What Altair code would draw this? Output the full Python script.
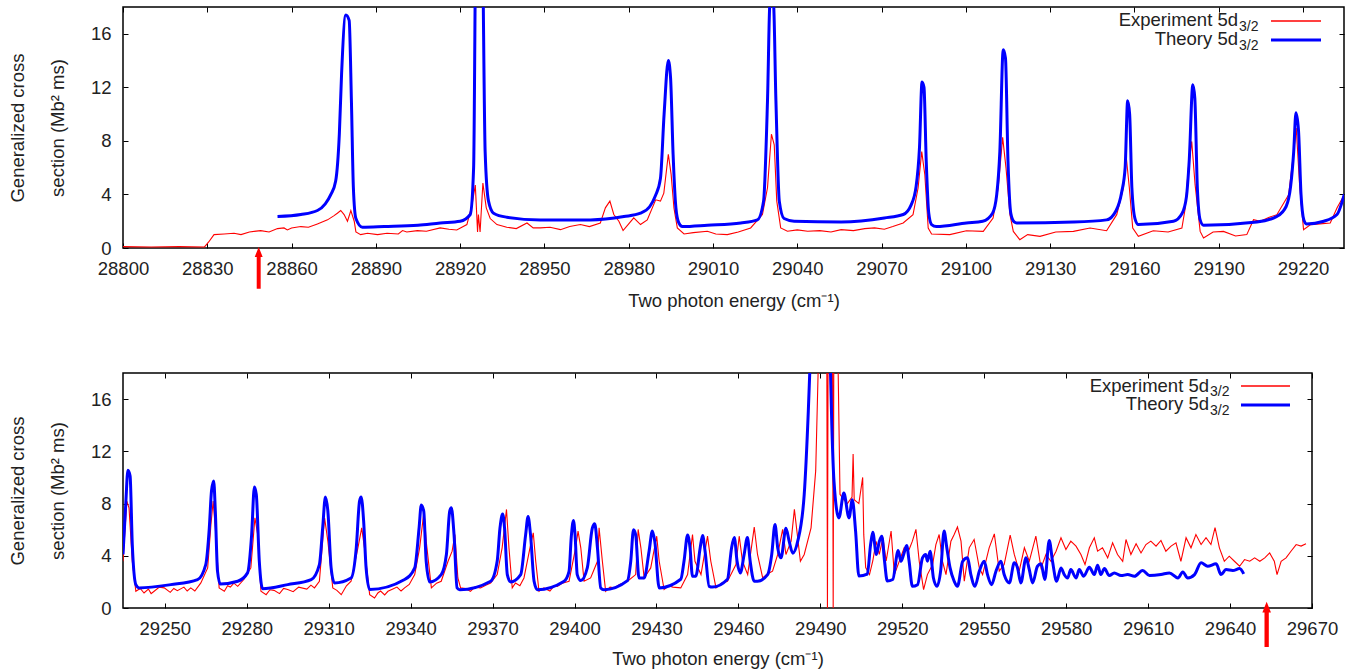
import altair as alt
import pandas as pd

# ---------------- data ----------------
top_experiment = [
    (28800, 0.1), (28810, 0.08), (28820, 0.1), (28829, 0.08), (28830.5, 0.45), (28832.4, 1.0),
    (28836, 1.05), (28839.5, 1.1), (28842, 1.0), (28845, 1.2), (28849, 1.3), (28852, 1.2),
    (28855, 1.45), (28857.3, 1.5), (28858.5, 1.35), (28860, 1.5), (28863.3, 1.6), (28866, 1.55),
    (28869.2, 1.8), (28872.8, 2.1), (28875, 2.4), (28876.3, 2.6), (28877.5, 2.8), (28878.7, 2.5),
    (28879.9, 2.0), (28881.1, 2.8), (28882.3, 2.0), (28882.9, 1.2), (28884.6, 1.0), (28887, 1.1),
    (28890.6, 1.0), (28894, 1.1), (28898, 1.05), (28899.5, 1.3), (28901, 1.2), (28904.8, 1.3),
    (28908, 1.25), (28912.9, 1.5), (28916, 1.4), (28918.8, 1.35), (28922.4, 1.75), (28924.2, 3.2),
    (28925.4, 4.7), (28926.2, 1.2), (28926.5, 2.5), (28927.1, 1.2), (28928.1, 4.85), (28929.3, 3.0),
    (28930.7, 2.2), (28933.1, 1.75), (28936.6, 1.55), (28940, 1.45), (28943.8, 1.87), (28946, 1.5),
    (28948.5, 1.5), (28952, 1.55), (28955.7, 1.37), (28959, 1.6), (28962.8, 1.75), (28966, 1.6),
    (28969.9, 1.87), (28971.7, 3.0), (28973.3, 3.5), (28974.7, 2.5), (28976.5, 2.0), (28978, 1.3),
    (28980, 1.8), (28981.8, 2.25), (28984.2, 1.75), (28986.6, 2.1), (28989.6, 3.6), (28991.3, 3.5),
    (28992.5, 4.1), (28994.1, 7.0), (28995.1, 5.5), (28996.1, 3.0), (28997.3, 1.5), (28999.7, 1.05),
    (29003, 1.15), (29008, 1.25), (29011, 1.05), (29015.1, 1.0), (29019, 1.2), (29023.4, 1.5),
    (29027.6, 2.5), (29029.4, 4.5), (29030.8, 8.5), (29031.8, 7.7), (29032.7, 3.5), (29034.1, 1.5),
    (29036.5, 1.25), (29040, 1.35), (29043.7, 1.25), (29048, 1.3), (29052, 1.2), (29055.6, 1.37),
    (29060, 1.3), (29064, 1.45), (29067.5, 1.5), (29071, 1.4), (29074, 1.6), (29077.7, 1.87),
    (29081.2, 2.49), (29083, 4.48), (29084.3, 7.2), (29085.4, 5.47), (29086.6, 1.49), (29087.8, 1.05),
    (29094.3, 1.0), (29100.2, 1.29), (29106.2, 1.24), (29109.7, 2.24), (29111.5, 4.48), (29113.1, 8.26),
    (29114.3, 5.97), (29115.7, 2.49), (29116.9, 1.24), (29119.2, 0.62), (29122, 1.0), (29126.4, 0.87),
    (29132, 1.2), (29138.3, 1.24), (29144.2, 1.49), (29150.1, 1.29), (29153.7, 2.49), (29156.1, 4.48),
    (29157, 7.0), (29158.2, 4.48), (29159.4, 1.49), (29161.4, 0.87), (29166.7, 1.29), (29172, 1.2),
    (29176.9, 1.49), (29178.1, 2.99), (29179.2, 5.97), (29180.4, 7.96), (29181.6, 4.73), (29183.4, 1.24),
    (29184.6, 0.75), (29188, 1.2), (29191.7, 1.24), (29196, 0.9), (29200, 1.0), (29202.4, 2.11),
    (29204.8, 1.99), (29208, 2.3), (29210.7, 2.49), (29214.9, 3.98), (29216.7, 7.2), (29217.6, 8.96),
    (29218.8, 4.73), (29220.2, 1.37), (29222.6, 1.74), (29226, 1.8), (29229.7, 1.87), (29232.1, 2.99),
    (29234.7, 3.98),
]

top_theory = [
    (28855, 2.35), (28863.3, 2.5), (28869.2, 2.8), (28872, 3.3), (28874, 4.0), (28875.7, 5.0),
    (28877.0, 8.5), (28877.8, 13.0), (28879.3, 17.4), (28880.5, 17.0), (28881.3, 11.0), (28882.0, 4.5),
    (28882.9, 2.2), (28885.2, 1.55), (28893, 1.6), (28905, 1.7), (28912.9, 1.87), (28920, 2.0),
    (28923.6, 2.5), (28924.8, 6.0), (28925.7, 25.0), (28927.7, 25.0), (28928.9, 7.2), (28930.1, 3.5),
    (28931.9, 2.6), (28936.6, 2.3), (28948.5, 2.1), (28966.4, 2.1), (28978.3, 2.35), (28984.2, 2.6),
    (28987.5, 3.1), (28989.5, 3.9), (28991.3, 5.2), (28992.6, 10.0), (28994.1, 14.0), (28994.9, 12.7),
    (28995.8, 7.0), (28996.8, 3.0), (28997.8, 1.9), (28999.1, 1.6), (29008, 1.7), (29019.9, 1.87),
    (29025.8, 2.1), (29028, 3.5), (29029.4, 11.0), (29030.3, 18.3), (29031.5, 18.3), (29032.4, 11.0),
    (29033.6, 3.5), (29035.3, 2.2), (29038.9, 2.0), (29055.6, 1.95), (29071, 2.24), (29077.7, 2.5),
    (29080.5, 3.2), (29082.3, 4.6), (29083.5, 7.5), (29084.4, 12.4), (29085.1, 12.0), (29085.9, 6.5),
    (29086.8, 2.6), (29087.8, 1.75), (29089.5, 1.6), (29100.2, 1.87), (29106, 2.0), (29109.5, 2.6),
    (29111.0, 4.0), (29112.1, 7.2), (29113.3, 14.8), (29114.1, 14.2), (29115.0, 6.5), (29116.0, 2.6),
    (29117.2, 1.95), (29118.1, 1.87), (29138.3, 1.94), (29150.1, 2.1), (29153.5, 2.8), (29155.5, 4.2),
    (29156.7, 6.0), (29157.6, 11.0), (29158.3, 10.0), (29159.1, 4.5), (29160.2, 2.2), (29161.4, 1.75),
    (29173.9, 2.0), (29177.0, 2.6), (29178.5, 3.8), (29179.5, 6.5), (29180.8, 12.2), (29181.5, 11.2),
    (29182.4, 4.5), (29183.4, 2.1), (29184.6, 1.7), (29203.6, 1.94), (29210.7, 2.36), (29214.0, 3.1),
    (29215.6, 4.6), (29216.7, 7.2), (29217.5, 10.1), (29218.4, 8.8), (29219.3, 4.0), (29220.3, 2.1),
    (29221.2, 1.8), (29227.4, 2.0), (29232.1, 2.5), (29234.7, 4.0),
]

bottom_experiment = [
    (29234.7, 3.58), (29236.1, 8.19), (29236.9, 7.68), (29238.1, 3.58), (29239.4, 1.28), (29241, 1.5),
    (29242.4, 1.15), (29244, 1.45), (29245, 1.1), (29246.1, 1.28), (29248, 1.6), (29249.8, 1.54),
    (29252, 1.2), (29253.3, 1.5), (29254.6, 1.33), (29257, 1.6), (29258.2, 1.3), (29259.5, 1.54),
    (29261, 1.3), (29263.2, 1.92), (29265.7, 3.07), (29266.9, 6.4), (29267.7, 8.19), (29268.5, 6.14),
    (29269.9, 1.54), (29271.8, 1.28), (29273, 1.7), (29274, 1.6), (29275.3, 1.9), (29276.7, 1.66),
    (29279, 2.2), (29281.5, 3.07), (29283, 6.91), (29284, 5.63), (29285.2, 1.28), (29287.1, 1.02),
    (29288.5, 1.4), (29290, 1.35), (29292, 1.1), (29293.5, 1.5), (29295, 1.41), (29297, 1.25),
    (29299, 1.6), (29302, 1.45), (29303.5, 1.75), (29304.8, 1.54), (29306.6, 2.05), (29308.5, 6.91),
    (29309.7, 5.12), (29311.5, 1.54), (29313, 1.35), (29314.6, 1.02), (29316.5, 1.7), (29318.2, 2.05),
    (29320.7, 4.61), (29322.1, 6.14), (29323.1, 4.61), (29325, 1.02), (29326.8, 0.77), (29328, 1.15),
    (29329, 1.3), (29330.5, 1.0), (29331.7, 1.28), (29333.5, 1.45), (29335, 1.6), (29336.5, 1.3),
    (29337.8, 1.54), (29339.5, 1.8), (29341.5, 2.56), (29343.3, 4.61), (29344.9, 7.42), (29345.7, 5.12),
    (29347.6, 1.54), (29349.5, 1.9), (29351.2, 2.05), (29353.7, 3.58), (29355.2, 4.35), (29356.2, 5.63),
    (29357.3, 2.3), (29358.3, 1.54), (29360, 1.5), (29361.9, 1.28), (29363.5, 1.6), (29365.6, 1.54),
    (29367.5, 1.75), (29369.3, 1.92), (29371.7, 2.56), (29373.5, 4.61), (29375.1, 7.55), (29376, 4.61),
    (29377.2, 1.54), (29378.4, 1.92), (29380, 1.7), (29381.5, 2.3), (29383.7, 4.61), (29384.9, 5.76),
    (29385.8, 3.58), (29387, 1.28), (29388.8, 1.54), (29391, 1.3), (29392.5, 1.7), (29393.7, 1.66),
    (29395.5, 1.9), (29398, 2.05), (29400.4, 4.61), (29401.3, 5.89), (29402.3, 4.61), (29403.5, 2.05),
    (29405.9, 2.3), (29408.4, 3.58), (29409, 6.14), (29410.2, 3.58), (29411.4, 1.28), (29413, 1.6),
    (29414.5, 1.54), (29416.5, 1.8), (29419.4, 2.05), (29422.4, 2.56), (29423.3, 6.02), (29424.3, 4.61),
    (29425.5, 2.3), (29427.9, 3.07), (29430.1, 5.5), (29431, 3.58), (29432.8, 1.41), (29434.5, 1.7),
    (29436, 1.6), (29438.9, 1.54), (29441.4, 2.56), (29443.2, 5.63), (29444.1, 3.58), (29446.3, 2.56),
    (29448.7, 5.5), (29449.9, 3.58), (29451.8, 1.54), (29453.8, 1.9), (29456, 2.05), (29459.1, 3.33),
    (29460.3, 5.5), (29461.5, 3.58), (29463.4, 2.56), (29465.8, 6.2), (29467, 4.1), (29468.9, 2.3),
    (29470.6, 2.6), (29472.5, 2.82), (29474.4, 4.1), (29476.2, 6.02), (29477.4, 4.1), (29479.3, 5.12),
    (29480.5, 7.55), (29481.7, 5.38), (29482.7, 3.58), (29484.1, 4.1), (29486.6, 6.14), (29488.3, 10.5),
    (29490, 25.0), (29492.3, 25.0), (29492.6, 0.0), (29492.9, 25.0), (29494.4, 25.0), (29494.7, 0.0),
    (29495.0, 25.0), (29496.5, 18.5), (29497.2, 8.7), (29498.6, 8.3), (29499.9, 8.0), (29501.6, 8.5),
    (29502.0, 11.8), (29502.4, 8.3), (29504.1, 8.0), (29505.5, 10.0), (29505.9, 5.6), (29506.6, 3.1),
    (29508, 2.56), (29509.2, 3.6), (29510.4, 5.1), (29511.6, 4.1), (29512.9, 5.4), (29514.1, 3.6),
    (29515.9, 5.9), (29517.1, 2.56), (29518.9, 3.58), (29520.7, 4.61), (29522.5, 4.48), (29523.7, 5.12),
    (29525, 6.02), (29526.2, 3.58), (29527.8, 1.41), (29529.2, 2.56), (29531.1, 3.33), (29532.3, 4.86),
    (29533.5, 5.63), (29534.7, 3.58), (29536, 2.56), (29537.8, 5.12), (29539, 5.63), (29540.2, 6.2),
    (29541.5, 5.12), (29542.7, 2.05), (29544.5, 4.61), (29546.3, 5.25), (29548.2, 3.07), (29549.4, 2.56),
    (29551.8, 4.61), (29553.7, 5.68), (29555.5, 2.82), (29557.3, 3.33), (29559.5, 5.58), (29561, 4.1),
    (29562.8, 2.82), (29564.7, 4.61), (29566.5, 3.58), (29568.9, 5.5), (29570.8, 3.07), (29572.6, 4.1),
    (29574.4, 3.58), (29576.3, 4.35), (29578.1, 5.38), (29579.9, 4.48), (29581.7, 5.12), (29583.6, 4.74),
    (29585.4, 4.1), (29586.9, 3.33), (29588.5, 4.61), (29590.3, 5.38), (29591.5, 4.35), (29593.3, 4.61),
    (29595.2, 3.84), (29597, 4.99), (29598.8, 4.1), (29600.7, 3.58), (29601.9, 5.25), (29603.7, 4.1),
    (29605.6, 4.92), (29607.4, 4.22), (29609.2, 4.86), (29611, 5.12), (29612.9, 4.74), (29614.7, 5.17),
    (29616.5, 4.35), (29618.4, 4.74), (29620.2, 4.99), (29622, 3.58), (29623.9, 5.38), (29625.7, 4.61),
    (29627.5, 5.63), (29629.4, 4.86), (29631.2, 5.38), (29633, 4.86), (29634.5, 6.15), (29636.1, 4.61),
    (29637.9, 3.58), (29639.7, 3.97), (29641.6, 3.58), (29643.5, 3.2), (29645.3, 3.71), (29647.2, 3.58),
    (29649, 3.84), (29650.9, 3.58), (29652.7, 3.84), (29654.5, 4.22), (29656.2, 3.58), (29657.2, 2.56),
    (29658.7, 3.58), (29660.5, 3.84), (29662.3, 4.35), (29664.2, 4.86), (29666, 4.74), (29667.8, 4.92),
]

bottom_theory = [
    (29234.7, 4.1), (29235.7, 7.94), (29236.5, 10.55), (29237.3, 10.11), (29238.1, 4.86), (29239.4, 1.79),
    (29240.6, 1.54), (29252.2, 1.79), (29262, 2.18), (29265, 3.33), (29266.3, 6.14), (29267.1, 8.96),
    (29267.9, 9.73), (29268.5, 7.42), (29269.3, 2.82), (29270.3, 1.84), (29276.7, 2.05), (29280.3, 2.69),
    (29281.8, 5.63), (29282.8, 9.27), (29283.5, 8.7), (29284.6, 3.58), (29285.8, 1.48), (29295, 1.79),
    (29303.6, 2.18), (29306.6, 3.33), (29307.8, 6.14), (29308.8, 8.5), (29309.7, 7.42), (29310.9, 3.07),
    (29312.1, 1.92), (29318.2, 2.3), (29320.1, 4.61), (29321.3, 8.19), (29321.9, 8.5), (29322.8, 6.66),
    (29323.7, 3.07), (29325, 1.41), (29337.8, 2.18), (29341.5, 3.07), (29343.1, 6.14), (29343.9, 7.89),
    (29344.8, 7.42), (29345.7, 3.58), (29347, 2.0), (29351.2, 2.56), (29353.1, 4.1), (29354.3, 7.4),
    (29354.9, 7.68), (29355.9, 5.6), (29357, 1.54), (29358, 1.4), (29369.3, 2.05), (29371.7, 3.6),
    (29372.7, 6.1), (29373.7, 7.2), (29374.4, 6.1), (29375.4, 2.56), (29376.6, 2.0), (29380.3, 2.56),
    (29382.1, 5.6), (29383, 7.0), (29383.9, 5.6), (29385.2, 2.05), (29386.4, 1.4), (29396.2, 2.05),
    (29398, 2.8), (29398.8, 5.4), (29399.6, 6.7), (29400.2, 5.6), (29401, 2.56), (29402.3, 2.1),
    (29404.7, 3.1), (29406.5, 6.1), (29407.4, 6.45), (29408.4, 4.6), (29409.6, 1.54), (29410.8, 1.4),
    (29419.4, 2.1), (29420.6, 3.6), (29421.6, 6.0), (29422.4, 5.6), (29423.6, 2.3), (29425.5, 2.3),
    (29427.3, 4.35), (29428.5, 5.9), (29429.4, 5.1), (29431, 1.54), (29438.9, 2.2), (29440.1, 3.6),
    (29441.4, 5.6), (29442.3, 4.6), (29443.2, 2.43), (29444.4, 2.43), (29446, 4.6), (29446.9, 5.55),
    (29447.8, 4.35), (29449.3, 1.66), (29450.5, 1.6), (29456, 2.2), (29457.5, 4.6), (29458.5, 5.4),
    (29459.5, 3.6), (29460.7, 2.69), (29462.1, 4.1), (29463.3, 5.4), (29464.3, 3.6), (29465.8, 2.05),
    (29467, 2.05), (29470.7, 2.56), (29472.2, 4.1), (29473.4, 6.4), (29474.4, 4.6), (29475.6, 3.84),
    (29477.4, 6.1), (29478.6, 5.1), (29479.9, 4.2), (29481.7, 5.1), (29484.1, 8.7), (29485.6, 15.1),
    (29486.3, 19.0), (29490, 30.0), (29493.6, 19.0), (29494.2, 14.0), (29495, 9.7), (29496.8, 6.9),
    (29498.6, 8.8), (29500.5, 6.9), (29501.7, 8.3), (29502.9, 5.9), (29504.1, 2.45), (29507.2, 2.6),
    (29508.4, 4.86), (29509.2, 5.8), (29510.5, 4.1), (29511.6, 5.1), (29512.5, 5.5), (29513.5, 3.6),
    (29514.5, 2.07), (29516.5, 2.18), (29518.5, 4.4), (29519.5, 3.58), (29520.5, 4.1), (29521.6, 4.79),
    (29522.5, 3.58), (29523.7, 1.66), (29525.6, 1.79), (29527.4, 3.84), (29528.6, 4.1), (29529.2, 3.58),
    (29530.2, 4.35), (29531.4, 2.3), (29532.7, 1.66), (29534.1, 2.94), (29535.3, 5.89), (29536.3, 4.61),
    (29537.5, 3.07), (29539, 2.05), (29540.2, 1.66), (29542.1, 3.58), (29543.9, 3.84), (29545.1, 2.56),
    (29546.6, 1.66), (29548.2, 2.82), (29550, 3.58), (29551.2, 2.56), (29552.7, 1.79), (29554.3, 2.82),
    (29556.1, 3.58), (29557.3, 2.56), (29559.2, 1.92), (29561, 3.46), (29562.2, 3.07), (29563.4, 1.92),
    (29565.3, 3.84), (29566.5, 2.94), (29567.7, 1.92), (29569.5, 3.2), (29570.8, 3.38), (29572.2, 2.18),
    (29573.8, 5.17), (29575, 3.58), (29576.5, 2.05), (29578.1, 3.07), (29579.3, 2.56), (29580.5, 2.3),
    (29581.7, 2.94), (29583.6, 2.3), (29584.8, 2.94), (29586.4, 2.43), (29588.5, 3.12), (29590.3, 2.56),
    (29591.5, 3.28), (29592.7, 2.56), (29594, 3.02), (29595.8, 2.48), (29597.6, 2.69), (29600.1, 2.48),
    (29602.5, 2.56), (29605, 2.43), (29608, 2.87), (29610.5, 2.48), (29614.7, 2.56), (29617.8, 2.69),
    (29620.9, 2.3), (29622.7, 2.76), (29624.5, 2.3), (29627, 2.56), (29629.4, 3.46), (29631.8, 3.2),
    (29634.9, 3.38), (29636.7, 2.56), (29638.5, 2.94), (29641, 2.87), (29643.5, 3.02), (29645, 2.61),
]

top_x_ticks = [28800, 28830, 28860, 28890, 28920, 28950, 28980, 29010, 29040, 29070,
               29100, 29130, 29160, 29190, 29220]
bottom_x_ticks = [29250, 29280, 29310, 29340, 29370, 29400, 29430, 29460, 29490, 29520,
                  29550, 29580, 29610, 29640, 29670]
y_ticks = [0, 4, 8, 12, 16]
top_x_domain = [28800, 29234.6]
bottom_x_domain = [29234.7, 29670]
y_domain = [0, 18]
top_arrow = [28848.3]
bottom_arrow = [29653.4]

legend_labels = ["Experiment 5d", "Theory 5d"]
legend_sub = "3/2"
x_title = "Two photon energy (cm\u207b\u00b9)"
y_title = ["Generalized cross", "section (Mb\u00b2 ms)"]

# ---------------- styling ----------------
FONT = "Liberation Sans"
TXT = "#222222"
RED = "#ff0000"
BLUE = "#0000ff"
FS = 18.5


def arrow_path(head_frac, head_half, shaft_half):
    b = -1 + head_frac
    return (f"M0,-1L{head_half},{b}L{shaft_half},{b}L{shaft_half},1"
            f"L-{shaft_half},1L-{shaft_half},{b}L-{head_half},{b}Z")


def panel(exp, th, xdom, xticks, w, h, arrow_x, arrow_cy, arrow_len,
          title_x, xtitle_y, leg):
    exp_df = pd.DataFrame(exp, columns=["x", "y"])
    th_df = pd.DataFrame(th, columns=["x", "y"])
    one = pd.DataFrame({"k": [0]})
    xs = alt.Scale(domain=xdom, nice=False, zero=False)
    ys = alt.Scale(domain=y_domain, nice=False, zero=False)

    main_x = alt.Axis(orient="bottom", values=xticks, format="d", ticks=False, domain=False,
                      grid=False, labelPadding=11, labelFlush=False, labelOverlap=False,
                      labelFont=FONT, labelFontSize=FS, labelColor=TXT,
                      title=x_title, titleY=xtitle_y, titleBaseline="alphabetic",
                      titleFont=FONT, titleFontSize=FS, titleFontWeight="normal", titleColor=TXT)
    main_y = alt.Axis(orient="left", values=y_ticks, ticks=False, domain=False, grid=False,
                      labelPadding=12, labelFlush=False, labelOverlap=False,
                      labelFont=FONT, labelFontSize=FS, labelColor=TXT,
                      title=y_title, titleX=title_x, titleY=h / 2, titleAngle=270,
                      titleAlign="center", titleBaseline="alphabetic", titleLineHeight=40,
                      titleFont=FONT, titleFontSize=FS, titleFontWeight="normal", titleColor=TXT)

    def tick_axis(orient, values):
        return alt.Axis(orient=orient, values=values, ticks=True, tickSize=5, tickWidth=1,
                        tickColor="black", labels=False, domain=False, grid=False,
                        offset=-5, title=None)

    exp_line = alt.Chart(exp_df).mark_line(color=RED, strokeWidth=1.1, clip=True).encode(
        x=alt.X("x:Q", scale=xs, axis=main_x),
        y=alt.Y("y:Q", scale=ys, axis=main_y),
    )
    th_line = alt.Chart(th_df).mark_line(color=BLUE, strokeWidth=3, clip=True,
                                         strokeJoin="round", interpolate="monotone").encode(
        x=alt.X("x:Q", scale=xs, axis=tick_axis("bottom", xticks)),
        y=alt.Y("y:Q", scale=ys, axis=tick_axis("left", y_ticks)),
    )
    mirror = alt.Chart(exp_df).mark_line(opacity=0, clip=True).encode(
        x=alt.X("x:Q", scale=xs, axis=tick_axis("top", xticks)),
        y=alt.Y("y:Q", scale=ys, axis=tick_axis("right", y_ticks)),
    )
    arrow = alt.Chart(pd.DataFrame({"x": arrow_x})).mark_point(
        shape=arrow_path(0.48, 0.19, 0.095), size=arrow_len ** 2, filled=True,
        color=RED, opacity=1, strokeWidth=0,
    ).encode(x=alt.X("x:Q", scale=xs, axis=None), y=alt.value(arrow_cy))

    tx, ty0, ty1, lx0, lx1, ly0, ly1 = leg
    layers = [exp_line, th_line, mirror, arrow]
    for lab, ty, ly, col, sw in [(legend_labels[0], ty0, ly0, RED, 1.3),
                                 (legend_labels[1], ty1, ly1, BLUE, 3)]:
        layers.append(alt.Chart(one).mark_text(text=lab, align="right", baseline="alphabetic",
                                               font=FONT, fontSize=FS, color=TXT).encode(
            x=alt.value(tx), y=alt.value(ty)))
        layers.append(alt.Chart(one).mark_text(text=legend_sub, align="left",
                                               baseline="alphabetic", font=FONT,
                                               fontSize=14, color=TXT).encode(
            x=alt.value(tx + 1), y=alt.value(ty + 4.7)))
        layers.append(alt.Chart(one).mark_rule(color=col, strokeWidth=sw).encode(
            x=alt.value(lx0), x2=alt.value(lx1), y=alt.value(ly)))

    return alt.layer(*layers).resolve_axis(x="independent", y="independent").properties(
        width=w, height=h)


top = panel(top_experiment, top_theory, top_x_domain, top_x_ticks, 1221, 241,
            top_arrow, 260.8, 41.7, -100, 58,
            (1115, 19, 38, 1148, 1198, 14, 33))
bottom = panel(bottom_experiment, bottom_theory, bottom_x_domain, bottom_x_ticks, 1189, 235,
               bottom_arrow, 251.3, 45.3, -100, 56.3,
               (1086, 18.7, 37.3, 1118, 1167, 13, 32))

chart = alt.vconcat(top, bottom, spacing=60).properties(
    padding={"left": 7, "top": 5, "right": 0, "bottom": 0},
    background="white",
).configure_view(stroke="black", strokeWidth=1.5)

chart.save("out.html", embed_options={"renderer": "svg", "actions": False})
